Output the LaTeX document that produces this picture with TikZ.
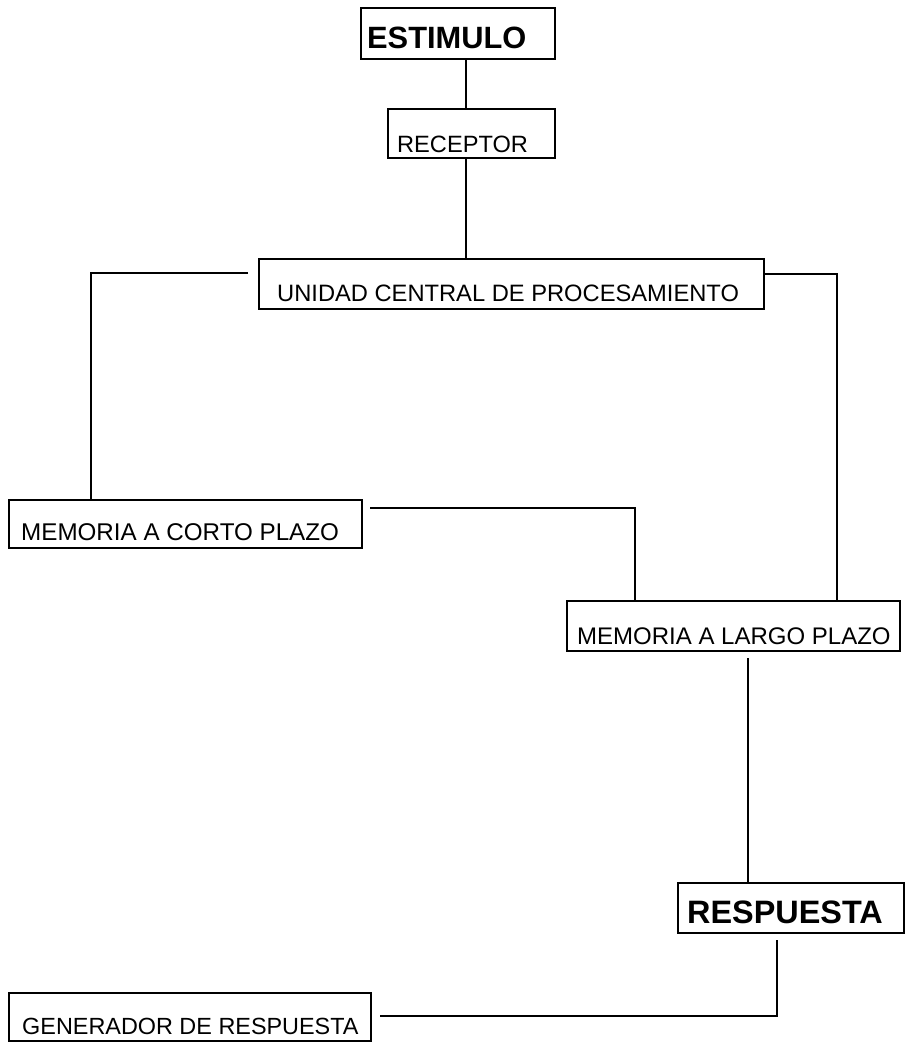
\documentclass[tikz,border=0pt]{standalone}
\usepackage{fontspec}
\setmainfont{Liberation Sans}
\begin{document}
\begin{tikzpicture}[x=1pt,y=-1pt,
  box/.style={draw,line width=1.5pt,inner sep=0pt,anchor=north west},
  lbl/.style={anchor=base west,inner sep=0pt},
  conn/.style={line width=1.5pt}]
\useasboundingbox[fill=white] (0,0) rectangle (905,1044);
% boxes
\node[box,minimum width=194pt,minimum height=51pt] (est) at (360,7) {};
\node[lbl,font=\fontsize{30.8}{30.8}\selectfont\bfseries] (estt) at (367,48) {ESTIMULO};
\node[box,minimum width=167pt,minimum height=49pt] (rec) at (387,108) {};
\node[lbl,font=\fontsize{23.6}{23.6}\selectfont] (rect) at (397,152) {RECEPTOR};
\node[box,minimum width=505pt,minimum height=50pt] (ucp) at (258,258) {};
\node[lbl,font=\fontsize{23.7}{23.7}\selectfont] (ucpt) at (277,301) {UNIDAD CENTRAL DE PROCESAMIENTO};
\node[box,minimum width=353pt,minimum height=48pt] (mcp) at (8,499) {};
\node[lbl,font=\fontsize{24.2}{24.2}\selectfont] (mcpt) at (21,540) {MEMORIA A CORTO PLAZO};
\node[box,minimum width=333pt,minimum height=50pt] (mlp) at (566,600) {};
\node[lbl,font=\fontsize{24}{24}\selectfont] (mlpt) at (577,644) {MEMORIA A LARGO PLAZO};
\node[box,minimum width=226pt,minimum height=50pt] (res) at (677,882) {};
\node[lbl,font=\fontsize{32.4}{32.4}\selectfont\bfseries] (rest) at (687,923) {RESPUESTA};
\node[box,minimum width=362pt,minimum height=48pt] (gen) at (8,992) {};
\node[lbl,font=\fontsize{23.4}{23.4}\selectfont] (gent) at (22,1034) {GENERADOR DE RESPUESTA};
% connector end points
\coordinate (ucpL) at (248,273);
\coordinate (mcpR) at (370,508);
\coordinate (mlpB) at (748,658);
\coordinate (resB) at (777,940);
\coordinate (genR) at (380,1016);
% connectors
\draw[conn] (est.south -| 466,0) -- (rec.north -| 466,0);
\draw[conn] (rec.south -| 466,0) -- (ucp.north -| 466,0);
\draw[conn] (ucpL) -| (mcp.north -| 91,0);
\draw[conn] (ucp.north east |- 0,274) -| (mlp.north -| 837,0);
\draw[conn] (mcpR) -| (mlp.north -| 635,0);
\draw[conn] (mlpB) -- (res.north -| 748,0);
\draw[conn] (resB) |- (genR);
\end{tikzpicture}
\end{document}
